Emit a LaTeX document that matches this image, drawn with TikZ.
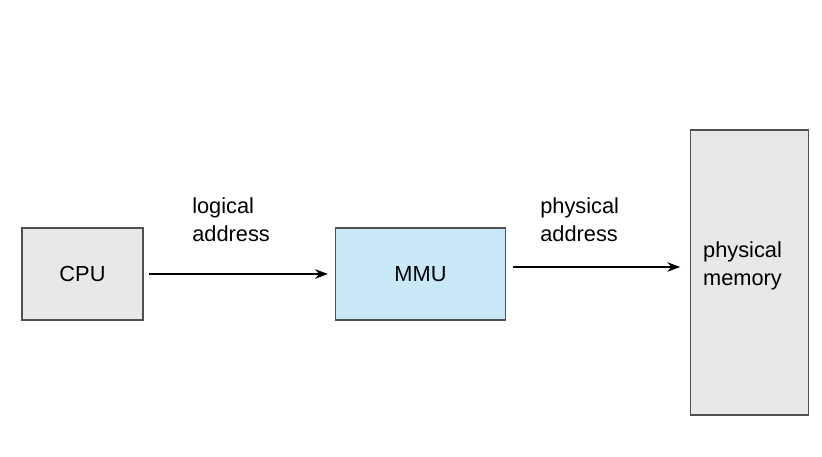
\documentclass[tikz,border=0pt]{standalone}
\usepackage{fontspec}
\setmainfont{Liberation Sans}
\usepackage{tikz}
\usetikzlibrary{positioning, arrows.meta}
\definecolor{boxgray}{HTML}{E8E8E8}
\definecolor{mmublue}{HTML}{C8E8F8}
\definecolor{edgegray}{HTML}{505050}
\tikzstyle{unit} = [rectangle, minimum width=3.025cm, minimum height=2.3cm, text centered, draw=edgegray, line width=0.9pt, fill=boxgray, font=\fontsize{15.5}{20}\selectfont]
\tikzstyle{label} = [inner sep=0, anchor=west, align=left, font=\fontsize{15.5}{20}\selectfont]
\tikzstyle{arrow} = [line width=0.8pt, -{Stealth[length=3.2mm, width=2.4mm]}]

\begin{document}
\begin{tikzpicture}
\useasboundingbox (0,0) rectangle (20.55,11.4);

\node (cpu) [unit] at (2.0625,4.55) {CPU};
\node (mmu) [unit, fill=mmublue, minimum width=4.25cm, right=4.78cm of cpu] {MMU};
\node (mem) [unit, minimum width=2.95cm, minimum height=7.125cm, right=4.6cm of mmu, yshift=0.04cm] {};
\node (memtext) [label, align=left, anchor=center] at ([xshift=-0.18cm, yshift=0.17cm]mem.center) {physical\\memory};
\node (logaddr) [label] at (4.8,5.9) {logical\\address};
\node (physaddr) [label] at (13.5,5.9) {physical\\address};

\draw [arrow, shorten <=0.125cm, shorten >=0.175cm] (cpu) -- (mmu);
\draw [arrow, shorten <=0.175cm, shorten >=0.25cm] ([yshift=0.175cm]mmu.east) -- ([yshift=0.175cm]mmu.east -| mem.west);

\end{tikzpicture}
\end{document}
